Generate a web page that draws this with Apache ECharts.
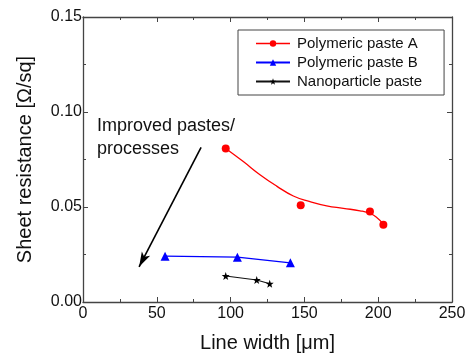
<!DOCTYPE html>
<html>
<head>
<meta charset="utf-8">
<script src="https://cdn.jsdelivr.net/npm/echarts@6/dist/echarts.min.js"></script>
<style>
  html, body { margin: 0; padding: 0; background: #fff; }
  #chart { width: 473px; height: 358px; }
</style>
</head>
<body>
<div id="chart"></div>
<script>
// measured points
let pasteA = [[96.7, 0.0808], [147.5, 0.0509], [194.4, 0.0476], [203.5, 0.0407]];
// red fitted curve
let pasteAFit = [[96.7, 0.0808], [108.6, 0.0739], [119.9, 0.0670], [131.2, 0.0610], [142.5, 0.0558],
    [153.8, 0.0528], [165.1, 0.0506], [176.4, 0.0493], [187.7, 0.0480], [194.4, 0.0466],
    [199.0, 0.0445], [203.5, 0.0410]];
let pasteB = [[55.6, 0.0241], [104.6, 0.0236], [140.5, 0.0206]];
let nanoPaste = [[96.7, 0.0137], [117.7, 0.0116], [126.5, 0.0096]];
// arrow "improved pastes/processes"
let arrowFrom = [80, 0.0814];
let arrowTo = [38, 0.0185];

let font = 'Liberation Sans, Arial, sans-serif';
let axisColor = '#444';
let starPath = 'path://M0,-10L2.4,-3.1L9.5,-3.1L3.8,1.2L5.9,8.1L0,4L-5.9,8.1L-3.8,1.2L-9.5,-3.1L-2.4,-3.1Z';

let chart = echarts.init(document.getElementById('chart'));

let baseAxis = {
    axisLine: { show: true, onZero: false, lineStyle: { color: axisColor, width: 1.3 } },
    axisTick: { show: true, inside: true, length: 5, lineStyle: { color: axisColor } },
    minorTick: { show: true, splitNumber: 2, length: 3, lineStyle: { color: axisColor } },
    splitLine: { show: false }
};

let option = {
    animation: false,
    grid: { left: 83, right: 21, top: 17, bottom: 52 },
    legend: {
        left: 238, top: 30,
        orient: 'vertical',
        padding: [5, 22, 5, 17],
        itemGap: 2,
        itemWidth: 34, itemHeight: 8,
        borderColor: '#444', borderWidth: 1,
        textStyle: { fontFamily: font, fontSize: 15, lineHeight: 17, color: '#111', padding: [0, 0, 0, 2] },
        data: [
            { name: 'Polymeric paste A', lineStyle: { opacity: 1, width: 1.3 } },
            'Polymeric paste B',
            'Nanoparticle paste'
        ]
    },
    xAxis: [{
        ...baseAxis,
        type: 'value', min: 0, max: 250, interval: 50,
        name: 'Line width [μm]', nameLocation: 'middle', nameGap: 31,
        nameTextStyle: { fontFamily: font, fontSize: 20, color: '#111' },
        axisLabel: { fontFamily: font, fontSize: 16, color: '#111', margin: 4 }
    }, {
        ...baseAxis,
        type: 'value', min: 0, max: 250, interval: 50, position: 'top',
        axisLabel: { show: false }
    }],
    yAxis: [{
        ...baseAxis,
        type: 'value', min: 0, max: 0.15, interval: 0.05,
        name: 'Sheet resistance [Ω/sq]', nameLocation: 'middle', nameGap: 48,
        nameTextStyle: { fontFamily: font, fontSize: 20, color: '#111' },
        axisLabel: { fontFamily: font, fontSize: 16, color: '#111', margin: 1,
            formatter: v => v.toFixed(2) }
    }, {
        ...baseAxis,
        type: 'value', min: 0, max: 0.15, interval: 0.05, position: 'right',
        axisLabel: { show: false }
    }],
    graphic: [
        { type: 'text', left: 97, top: 117, style: { text: 'Improved pastes/', font: '18px ' + font, fill: '#111' } },
        { type: 'text', left: 97, top: 140, style: { text: 'processes', font: '18px ' + font, fill: '#111' } }
    ],
    series: [
        {
            name: 'Polymeric paste A', type: 'line', data: pasteA,
            symbol: 'circle', symbolSize: 8,
            lineStyle: { color: '#ff0000', width: 1.3, opacity: 0 }, itemStyle: { color: '#ff0000' },
            markLine: {
                silent: true, symbol: ['none', 'arrow'], symbolSize: [7, 15],
                label: { show: false },
                lineStyle: { color: '#000', width: 1.6, type: 'solid', opacity: 1 },
                data: [[{ coord: arrowFrom }, { coord: arrowTo }]]
            }
        },
        {
            name: 'Polymeric paste A', type: 'line', data: pasteAFit, smooth: true,
            showSymbol: false, lineStyle: { color: '#ff0000', width: 1.3 }, itemStyle: { color: '#ff0000' }
        },
        {
            name: 'Polymeric paste B', type: 'line', data: pasteB,
            symbol: 'triangle', symbolSize: 9,
            lineStyle: { color: '#0000ff', width: 1.3 }, itemStyle: { color: '#0000ff' }
        },
        {
            name: 'Nanoparticle paste', type: 'line', data: nanoPaste,
            symbol: starPath, symbolSize: 8,
            lineStyle: { color: '#111', width: 1.1 }, itemStyle: { color: '#000' }
        }
    ]
};

chart.setOption(option);
</script>
</body>
</html>
